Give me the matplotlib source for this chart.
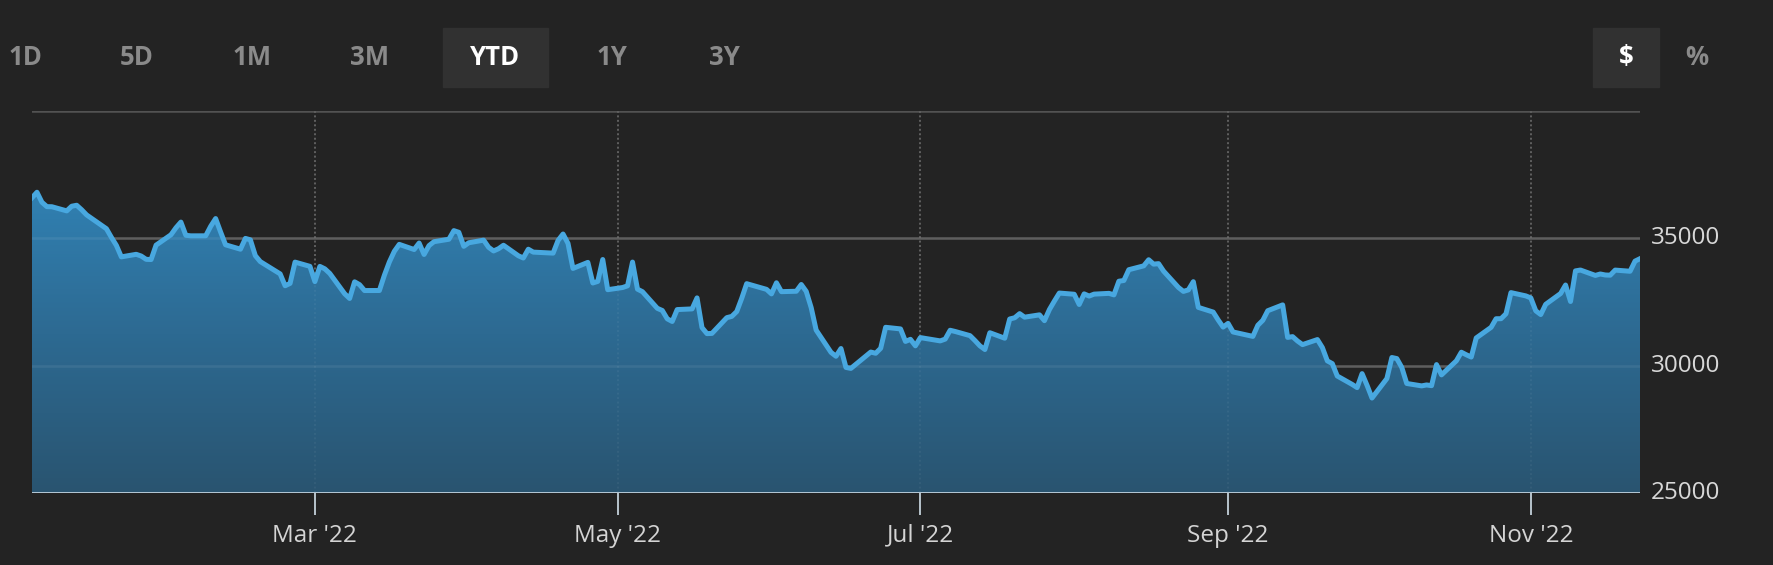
import numpy as np
import pandas as pd
import matplotlib
matplotlib.use("Agg")
import matplotlib.pyplot as plt
from matplotlib.colors import LinearSegmentedColormap
from matplotlib.patches import PathPatch, Rectangle

# daily closes, YTD 2022
dates = [
    "2022-01-03", "2022-01-04", "2022-01-05", "2022-01-06", "2022-01-07", "2022-01-10", "2022-01-11",
    "2022-01-12", "2022-01-13", "2022-01-14", "2022-01-18", "2022-01-19", "2022-01-20", "2022-01-21",
    "2022-01-24", "2022-01-25", "2022-01-26", "2022-01-27", "2022-01-28", "2022-01-31",
    "2022-02-01", "2022-02-02", "2022-02-03", "2022-02-04", "2022-02-07", "2022-02-08", "2022-02-09",
    "2022-02-10", "2022-02-11", "2022-02-14", "2022-02-15", "2022-02-16", "2022-02-17", "2022-02-18",
    "2022-02-22", "2022-02-23", "2022-02-24", "2022-02-25", "2022-02-28",
    "2022-03-01", "2022-03-02", "2022-03-03", "2022-03-04", "2022-03-07", "2022-03-08", "2022-03-09",
    "2022-03-10", "2022-03-11", "2022-03-14", "2022-03-15", "2022-03-16", "2022-03-17", "2022-03-18",
    "2022-03-21", "2022-03-22", "2022-03-23", "2022-03-24", "2022-03-25", "2022-03-28", "2022-03-29",
    "2022-03-30", "2022-03-31",
    "2022-04-01", "2022-04-04", "2022-04-05", "2022-04-06", "2022-04-07", "2022-04-08", "2022-04-11",
    "2022-04-12", "2022-04-13", "2022-04-14", "2022-04-18", "2022-04-19", "2022-04-20", "2022-04-21",
    "2022-04-22", "2022-04-25", "2022-04-26", "2022-04-27", "2022-04-28", "2022-04-29",
    "2022-05-02", "2022-05-03", "2022-05-04", "2022-05-05", "2022-05-06", "2022-05-09", "2022-05-10",
    "2022-05-11", "2022-05-12", "2022-05-13", "2022-05-16", "2022-05-17", "2022-05-18", "2022-05-19",
    "2022-05-20", "2022-05-23", "2022-05-24", "2022-05-25", "2022-05-26", "2022-05-27", "2022-05-31",
    "2022-06-01", "2022-06-02", "2022-06-03", "2022-06-06", "2022-06-07", "2022-06-08", "2022-06-09",
    "2022-06-10", "2022-06-13", "2022-06-14", "2022-06-15", "2022-06-16", "2022-06-17", "2022-06-21",
    "2022-06-22", "2022-06-23", "2022-06-24", "2022-06-27", "2022-06-28", "2022-06-29", "2022-06-30",
    "2022-07-01", "2022-07-05", "2022-07-06", "2022-07-07", "2022-07-08", "2022-07-11", "2022-07-12",
    "2022-07-13", "2022-07-14", "2022-07-15", "2022-07-18", "2022-07-19", "2022-07-20", "2022-07-21",
    "2022-07-22", "2022-07-25", "2022-07-26", "2022-07-27", "2022-07-28", "2022-07-29",
    "2022-08-01", "2022-08-02", "2022-08-03", "2022-08-04", "2022-08-05", "2022-08-08", "2022-08-09",
    "2022-08-10", "2022-08-11", "2022-08-12", "2022-08-15", "2022-08-16", "2022-08-17", "2022-08-18",
    "2022-08-19", "2022-08-22", "2022-08-23", "2022-08-24", "2022-08-25", "2022-08-26", "2022-08-29",
    "2022-08-30", "2022-08-31",
    "2022-09-01", "2022-09-02", "2022-09-06", "2022-09-07", "2022-09-08", "2022-09-09", "2022-09-12",
    "2022-09-13", "2022-09-14", "2022-09-15", "2022-09-16", "2022-09-19", "2022-09-20", "2022-09-21",
    "2022-09-22", "2022-09-23", "2022-09-26", "2022-09-27", "2022-09-28", "2022-09-29", "2022-09-30",
    "2022-10-03", "2022-10-04", "2022-10-05", "2022-10-06", "2022-10-07", "2022-10-10", "2022-10-11",
    "2022-10-12", "2022-10-13", "2022-10-14", "2022-10-17", "2022-10-18", "2022-10-19", "2022-10-20",
    "2022-10-21", "2022-10-24", "2022-10-25", "2022-10-26", "2022-10-27", "2022-10-28", "2022-10-31",
    "2022-11-01", "2022-11-02", "2022-11-03", "2022-11-04", "2022-11-07", "2022-11-08", "2022-11-09",
    "2022-11-10", "2022-11-11", "2022-11-14", "2022-11-15", "2022-11-16", "2022-11-17", "2022-11-18",
    "2022-11-21", "2022-11-22", "2022-11-23",
]
closes = [
    36585, 36800, 36407, 36236, 36232, 36069, 36252, 36290, 36114, 35912, 35368, 35029, 34715, 34265,
    34365, 34298, 34168, 34161, 34725, 35132,
    35405, 35629, 35111, 35090, 35091, 35463, 35768, 35242, 34738, 34566, 34989, 34934, 34312, 34079,
    33597, 33132, 33224, 34059, 33893,
    33295, 33891, 33795, 33615, 32817, 32633, 33286, 33174, 32944, 32945, 33544, 34063, 34481, 34755,
    34553, 34807, 34359, 34708, 34861, 34956, 35294, 35229, 34678,
    34818, 34922, 34641, 34497, 34584, 34721, 34308, 34220, 34565, 34451, 34412, 34911, 35161, 34793,
    33811, 34049, 33240, 33302, 34161, 32977,
    33062, 33129, 34061, 32998, 32899, 32246, 32161, 31834, 31730, 32197, 32223, 32655, 31490, 31253,
    31262, 31880, 31929, 32120, 32637, 33213, 32990,
    32813, 33248, 32900, 32916, 33180, 32911, 32273, 31393, 30517, 30365, 30669, 29927, 29889, 30530,
    30483, 30677, 31501, 31438, 30947, 31029, 30775,
    31097, 30968, 31038, 31385, 31338, 31174, 30981, 30773, 30630, 31288, 31073, 31827, 31875, 32037,
    31899, 31990, 31762, 32198, 32530, 32845,
    32798, 32396, 32813, 32727, 32803, 32833, 32774, 33310, 33337, 33761, 33912, 34152, 33980, 33999,
    33707, 33064, 32910, 32969, 33292, 32283, 32099, 31791, 31510,
    31656, 31318, 31145, 31581, 31775, 32152, 32381, 31105, 31135, 30962, 30822, 31020, 30706, 30184,
    30077, 29590, 29261, 29135, 29684, 29226, 28726,
    29491, 30316, 30274, 29927, 29297, 29203, 29239, 29211, 30039, 29635, 30186, 30524, 30424, 30334,
    31083, 31500, 31837, 31839, 32033, 32862, 32733,
    32653, 32148, 32001, 32403, 32827, 33161, 32514, 33715, 33748, 33537, 33593, 33554, 33546, 33746,
    33700, 34098, 34194,
]

x_ticks = ["2022-03-01", "2022-05-01", "2022-07-01", "2022-09-01", "2022-11-01"]
x_tick_labels = ["Mar '22", "May '22", "Jul '22", "Sep '22", "Nov '22"]
y_ticks = [25000, 30000, 35000]
grid_levels = [30000, 35000, 40000]
ranges = ["1D", "5D", "1M", "3M", "YTD", "1Y", "3Y"]
units = ["$", "%"]

BG = "#232323"
LINE = "#48a8e0"
W, H = 1774, 565

plt.rcParams["font.family"] = ["Open Sans", "DejaVu Sans"]

x = pd.to_datetime(dates)
tick_x = pd.to_datetime(x_ticks)
y0, y1 = 25000, 40000

fig = plt.figure(figsize=(W / 100, H / 100), dpi=100, facecolor=BG)
ax = fig.add_axes([32 / W, (H - 493) / H, (1640 - 32) / W, (493 - 110.7) / H])
ax.set_facecolor(BG)
ax.set_xlim(x[0], x[-1])
ax.set_ylim(y0, y1)

# grid under the fill
for lv in grid_levels:
    ax.axhline(lv, color="#525252", lw=1.8, zorder=0)
for t in tick_x:
    ax.axvline(t, color="#585858", lw=1.4, ls=(0, (1, 1.3)), zorder=0)

# gradient area
fill = ax.fill_between(x, closes, y0, color="none", lw=0)
path = fill.get_paths()[0]
clip = PathPatch(path, transform=ax.transData, facecolor="none", edgecolor="none")
ax.add_patch(clip)
cmap = LinearSegmentedColormap.from_list("area", ["#295470", "#2d6a92", "#3183b6"])
grad = np.linspace(0, 1, 256).reshape(-1, 1)
im = ax.imshow(grad, cmap=cmap, aspect="auto", origin="lower",
               extent=[ax.get_xlim()[0], ax.get_xlim()[1], y0, 37500], zorder=1)
im.set_clip_path(clip)

# faint grid showing through the fill
for lv in grid_levels[:2]:
    ax.axhline(lv, color="white", alpha=0.07, lw=1.8, zorder=2)
for t in tick_x:
    ax.axvline(t, color="white", alpha=0.05, lw=1.4, ls=(0, (1, 1.3)), zorder=2)

ax.plot(x, closes, color=LINE, lw=3.6, solid_joinstyle="round", zorder=3)
ax.axhline(y0, color="#c2d2de", lw=2.0, zorder=4)

for s in ax.spines.values():
    s.set_visible(False)

ax.set_xticks(tick_x)
ax.set_xticklabels(x_tick_labels)
ax.tick_params(axis="x", length=16, width=1.4, color="#b8c4cc", pad=6,
               labelcolor="#d4d4d4", labelsize=17.5)
ax.yaxis.tick_right()
ax.set_yticks(y_ticks)
ax.set_yticklabels([str(v) for v in y_ticks])
ax.tick_params(axis="y", length=0, pad=8, labelcolor="#d8d8d8", labelsize=17.5)
for lab in ax.get_yticklabels():
    lab.set_verticalalignment("center")

# range buttons
range_x = [25, 137, 252, 370, 495, 612, 724]
for label, cx in zip(ranges, range_x):
    active = label == "YTD"
    if active:
        fig.patches.append(Rectangle((443 / W, 1 - 87 / H), 105 / W, 59 / H,
                                     transform=fig.transFigure, color="#313131", zorder=0))
    fig.text(cx / W, 1 - 57.5 / H, label, ha="center", va="center", fontsize=18.5,
             fontweight="bold", color="white" if active else "#8a8a8a")

unit_x = [1626, 1697]
for label, cx in zip(units, unit_x):
    active = label == "$"
    if active:
        fig.patches.append(Rectangle((1593 / W, 1 - 87 / H), 66 / W, 59 / H,
                                     transform=fig.transFigure, color="#313131", zorder=0))
    fig.text(cx / W, 1 - 57.5 / H, label, ha="center", va="center", fontsize=18.5,
             fontweight="bold", color="white" if active else "#8a8a8a")

fig.savefig("out.png", dpi=100, facecolor=BG)
